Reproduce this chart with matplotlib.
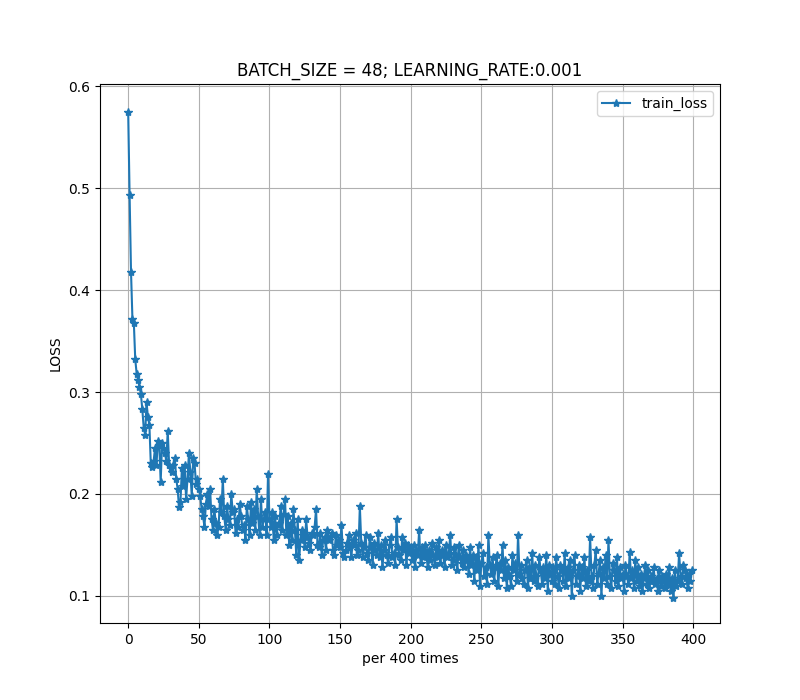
import matplotlib
matplotlib.use("Agg")
import matplotlib.pyplot as plt

title = "BATCH_SIZE = 48; LEARNING_RATE:0.001"
series_name = "train_loss"
loss = [
.575,.493,.418,.372,.368,.332,.318,.312,.305,.298,.283,.265,.258,.290,.275,.268,.230,.226,.232,.245,
.228,.252,.248,.212,.250,.245,.240,.232,.262,.228,.225,.222,.228,.235,.215,.205,.187,.192,.225,.208,
.228,.195,.215,.240,.222,.198,.235,.230,.210,.215,.205,.198,.185,.178,.168,.190,.200,.188,.205,.175,
.165,.185,.172,.160,.168,.195,.182,.215,.178,.165,.188,.175,.170,.200,.182,.185,.162,.175,.168,.190,
.178,.165,.170,.155,.188,.175,.160,.192,.172,.185,.165,.205,.178,.160,.195,.168,.175,.182,.160,.220,
.175,.168,.182,.155,.178,.160,.170,.172,.188,.165,.180,.195,.160,.178,.150,.172,.155,.185,.165,.140,
.175,.135,.155,.165,.160,.148,.175,.158,.152,.145,.162,.160,.168,.185,.150,.148,.162,.140,.155,.158,
.145,.165,.155,.158,.162,.145,.140,.160,.150,.155,.148,.170,.142,.138,.145,.152,.160,.148,.138,.155,
.150,.162,.140,.145,.188,.152,.138,.148,.160,.142,.135,.158,.148,.130,.152,.145,.140,.162,.138,.150,
.128,.145,.155,.140,.132,.150,.158,.138,.142,.130,.175,.148,.140,.135,.158,.145,.152,.130,.150,.142,
.148,.135,.150,.128,.145,.140,.165,.132,.148,.138,.150,.142,.128,.145,.135,.152,.140,.130,.148,.138,
.155,.132,.145,.140,.128,.150,.138,.142,.160,.130,.135,.148,.140,.125,.150,.138,.132,.145,.128,.140,
.135,.122,.148,.130,.140,.115,.138,.125,.150,.110,.132,.142,.120,.128,.112,.160,.130,.122,.138,.115,
.128,.140,.110,.132,.125,.150,.118,.135,.108,.128,.120,.110,.140,.125,.132,.115,.160,.122,.130,.118,
.112,.125,.135,.108,.128,.118,.142,.115,.130,.120,.110,.138,.125,.112,.128,.118,.140,.105,.130,.122,
.115,.128,.112,.138,.120,.108,.130,.125,.115,.142,.110,.128,.118,.135,.100,.125,.140,.112,.120,.130,
.105,.128,.118,.138,.110,.125,.115,.158,.120,.108,.130,.145,.112,.122,.135,.100,.128,.118,.140,.112,
.155,.120,.108,.132,.125,.115,.138,.110,.128,.118,.122,.105,.130,.120,.112,.143,.118,.125,.108,.135,
.115,.128,.110,.122,.105,.118,.130,.112,.125,.108,.120,.115,.128,.112,.118,.105,.125,.110,.120,.115,
.108,.122,.112,.128,.105,.118,.098,.125,.110,.115,.142,.120,.112,.130,.125,.118,.108,.122,.115,.125,
]
steps = list(range(len(loss)))

fig = plt.figure(figsize=(8, 7), dpi=100)
ax = fig.add_subplot(111)
ax.plot(steps, loss, marker="*", color="#1f77b4", label=series_name)
ax.set_title(title)
ax.set_xlabel("per 400 times")
ax.set_ylabel("LOSS")
ax.set_ylim(0.0735, 0.602)
ax.grid(True)
ax.legend(loc="upper right")
fig.savefig("out.png")
